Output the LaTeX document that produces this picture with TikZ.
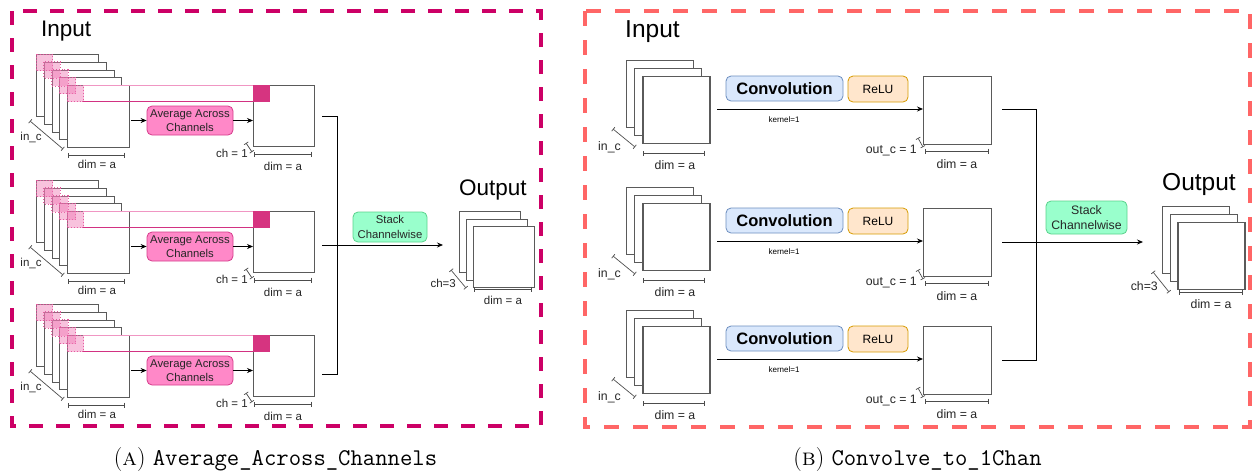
\documentclass[tikz,border=0pt]{standalone}
\usepackage{fontspec}
\newfontfamily\sansf{Liberation Sans}
\usetikzlibrary{arrows.meta}
\definecolor{magb}{RGB}{204,0,102}
\definecolor{redb}{RGB}{255,102,102}
\definecolor{framec}{RGB}{90,90,90}
\definecolor{pinkfill}{RGB}{240,120,180}
\definecolor{pinkdot}{RGB}{230,90,160}
\definecolor{bandtop}{RGB}{240,150,195}
\definecolor{bandbot}{RGB}{210,50,130}
\definecolor{darkpink}{RGB}{214,52,128}
\definecolor{avgfill}{RGB}{255,136,200}
\definecolor{avgdraw}{RGB}{214,60,140}
\definecolor{stackfill}{RGB}{153,255,204}
\definecolor{stackdraw}{RGB}{90,210,140}
\definecolor{convfill}{HTML}{DAE8FC}
\definecolor{convdraw}{HTML}{6C8EBF}
\definecolor{relufill}{HTML}{FFE6CC}
\definecolor{reludraw}{HTML}{D79B00}
\newcommand\fsz[2]{\sansf\fontsize{#1}{#2}\selectfont}
\newcommand\leftblk[2]{%
  \foreach \k in {0,...,4}{\node[sq=62] (#1f\k) at ({36+7.75*\k},{#2-31+7.75*\k}) {};}
  \foreach \k in {0,...,4}{\path[pinksq] ({36+7.75*\k},{#2-31+7.75*\k}) rectangle ++(16.5,16.5);}
  \draw[line width=0.9pt,bandtop] (83,#2) -- (253,#2);
  \draw[line width=0.9pt,bandbot] (83,{#2+16.5}) -- (253,{#2+16.5});
  \node[sq=61] (#1o) at (253,#2) {};
  \fill[darkpink] (253,#2) rectangle ++(16.5,16.5);
  \node[avgbox] (#1a) at (190,{#2+35.5}) {Average Across\\Channels};
  \draw[arr] ([xshift=1pt]#1f4.east |- #1a) -- (#1a.west);
  \draw[arr] (#1a.east) -- (#1a.east -| #1o.west);
  \draw[dimln] (30,{#2+36}) -- (63,{#2+64});
  \node[lblL] at (31,{#2+52}) {in\_c};
  \draw[dimln] (68,{#2+70}) -- (125,{#2+70});
  \node[lblL] at (97,{#2+79}) {dim = a};
  \draw[dimln] (246,{#2+58}) -- (252,{#2+67});
  \node[lblL,anchor=east] at (248,{#2+68}) {ch = 1};
  \draw[dimln] (254,{#2+69}) -- (312,{#2+69});
  \node[lblL] at (283,{#2+81}) {dim = a};
}
\newcommand\rightblk[3]{%
  \foreach \k in {0,1,2}{\node[sq=67] (#1f\k) at ({626+8.2*\k},{#3-16.4+8.2*\k}) {};}
  \draw[dimln] (613,{#3+53}) -- (635,{#3+71});
  \node[lblR] at (609.5,{#3+71}) {in\_c};
  \draw[dimln] (643,{#3+77}) -- (705,{#3+77});
  \node[lblR] at (675,{#3+89}) {dim = a};
  \node[convbox] (#1c) at (784.5,{#2+12.5}) {Convolution};
  \node[relubox] (#1r) at (878,{#2+13}) {ReLU};
  \node[sq=68] (#1o) at (923,#2) {};
  \coordinate (#1s) at (717,{#2+33});
  \draw[arr] (#1s) -- (#1s -| #1o.west);
  \node[inner sep=0pt,font=\fsz{8}{9}] at (784,{#2+44}) {kernel=1};
  \draw[dimln] (918,{#2+62}) -- (923,{#2+71});
  \node[lblR,anchor=east] at (917,{#2+74}) {out\_c = 1};
  \draw[dimln] (925,{#2+75}) -- (989,{#2+75});
  \node[lblR] at (957,{#2+88}) {dim = a};
}
\begin{document}
\begin{tikzpicture}[x=1pt,y=-1pt,font=\sansf,
  sq/.style={draw=framec,fill=white,line width=1.1pt,inner sep=0pt,minimum width=#1pt,minimum height=#1pt,anchor=north west},
  pinksq/.style={fill=pinkfill,fill opacity=0.45,draw=pinkdot,draw opacity=1,dotted,line width=0.9pt},
  arr/.style={draw=black,line width=0.8pt,-{Stealth[length=6pt,width=5pt]}},
  dimln/.style={draw=black!70,line width=0.7pt,arrows={Bar[width=5pt]-Bar[width=5pt]}},
  lblL/.style={inner sep=0pt,font=\fsz{11.5}{13},text=black!85},
  lblR/.style={inner sep=0pt,font=\fsz{12.3}{14},text=black!85},
  avgbox/.style={draw=avgdraw,fill=avgfill,line width=0.8pt,rounded corners=5pt,minimum width=86pt,minimum height=29pt,inner sep=0pt,align=center,font=\fsz{11.3}{13.5},text=black!85},
  stackbox/.style={draw=stackdraw,fill=stackfill,line width=0.8pt,rounded corners=5pt,inner sep=0pt,align=center,text=black!85},
  convbox/.style={draw=convdraw,fill=convfill,line width=0.8pt,rounded corners=5pt,minimum width=117pt,minimum height=25pt,inner sep=0pt,font=\fsz{16.5}{18}\bfseries},
  relubox/.style={draw=reludraw,fill=relufill,line width=0.8pt,rounded corners=5pt,minimum width=60pt,minimum height=26pt,inner sep=0pt,font=\fsz{12}{14}},
  conn/.style={draw=black,line width=0.8pt},
  ttl/.style={inner sep=0pt,anchor=base west},
  captxt/.style={inner sep=0pt,anchor=base,font=\rmfamily\fontsize{24}{28}\selectfont}
]
\useasboundingbox (0,0) rectangle (1253,472);
% borders
\draw[magb,line width=4pt,dash pattern=on 14pt off 13pt] (12,11) rectangle (541,426);
\draw[redb,line width=4pt,dash pattern=on 15pt off 14pt] (585,11) rectangle (1250,427);
% left panel
\node[ttl,font=\fsz{22.5}{26}] (inL) at (41,36) {Input};
\leftblk{La}{85}
\leftblk{Lb}{211}
\leftblk{Lc}{335}
\coordinate (lt0) at (322,116); \coordinate (lt1) at (337,116);
\coordinate (lb0) at (322,374); \coordinate (lb1) at (337,374);
\coordinate (lm0) at (322,245); \coordinate (lm1) at (443,245);
\draw[conn] (lt0) -- (lt1) -- (lb1) -- (lb0);
\foreach \k in {0,1,2}{\node[sq=61] (LO\k) at ({459+7*\k},{211+7.5*\k}) {};}
\draw[arr] (lm0) -- (lm1);
\node[stackbox,minimum width=74pt,minimum height=30pt,font=\fsz{11.3}{14.5}] (Ls) at (390,227) {Stack\\Channelwise};
\node[ttl,font=\fsz{22.5}{26}] (outL) at (459,195) {Output};
\draw[dimln] (451,270) -- (466,288);
\node[lblL,anchor=east] at (456,283) {ch=3};
\draw[dimln] (474,289) -- (532,289);
\node[lblL] at (503,300) {dim = a};
% right panel
\node[ttl,font=\fsz{24.5}{28}] (inR) at (625,37.5) {Input};
\rightblk{Ra}{76}{76}
\rightblk{Rb}{208}{203}
\rightblk{Rc}{326}{326}
\coordinate (rt0) at (1002,109); \coordinate (rt1) at (1036,109);
\coordinate (rb0) at (1002,360); \coordinate (rb1) at (1036,360);
\coordinate (rm0) at (1002,242); \coordinate (rm1) at (1143,242);
\draw[conn] (rt0) -- (rt1) -- (rb1) -- (rb0);
\foreach \k in {0,1,2}{\node[sq=67] (RO\k) at ({1162+7.7*\k},{206+7.9*\k}) {};}
\draw[arr] (rm0) -- (rm1);
\node[stackbox,minimum width=81pt,minimum height=33pt,font=\fsz{12.3}{15}] (Rs) at (1086.5,217.5) {Stack\\Channelwise};
\node[ttl,font=\fsz{24.5}{28}] (outR) at (1162,190) {Output};
\draw[dimln] (1153,272) -- (1169,292);
\node[lblR,anchor=east] at (1158,286) {ch=3};
\draw[dimln] (1179,292) -- (1243,292);
\node[lblR] at (1211,304) {dim = a};
% captions
\node[captxt] (capA) at (275.5,465) {(\textsc{a})\ \texttt{Average\_Across\_Channels}};
\node[captxt] (capB) at (917.5,465) {(\textsc{b})\ \texttt{Convolve\_to\_1Chan}};
\end{tikzpicture}
\end{document}
